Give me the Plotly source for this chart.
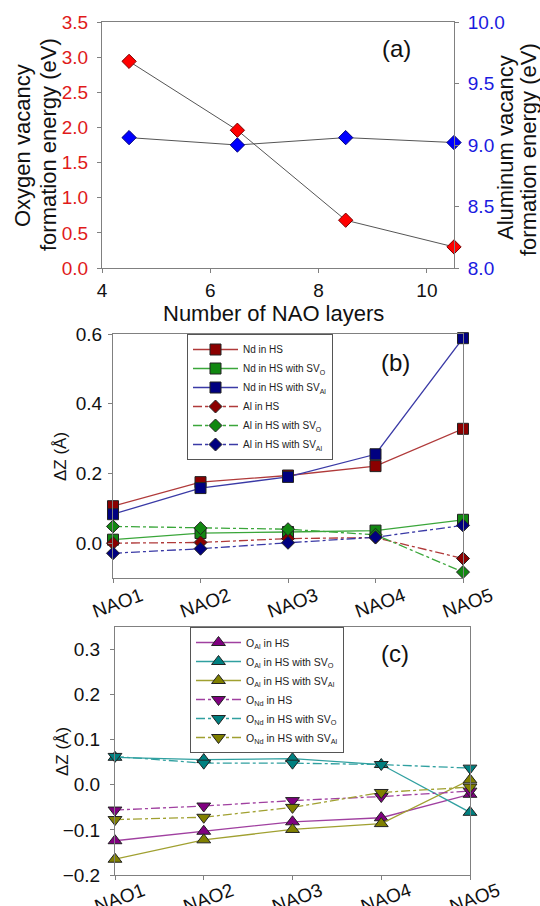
import plotly.graph_objects as go

# ---------------- data ----------------
# panel (a)
nao_layers = [4.5, 6.5, 8.5, 10.5]
o_vac_energy = [2.94, 1.96, 0.68, 0.30]
al_vac_energy = [9.06, 9.00, 9.06, 9.02]

# panels (b) and (c)
layers = ["NAO1", "NAO2", "NAO3", "NAO4", "NAO5"]

nd_hs = [0.106, 0.175, 0.194, 0.221, 0.328]
nd_hs_svo = [0.010, 0.029, 0.032, 0.036, 0.067]
nd_hs_sval = [0.083, 0.158, 0.190, 0.255, 0.588]
al_hs = [0.000, 0.002, 0.013, 0.016, -0.044]
al_hs_svo = [0.048, 0.043, 0.040, 0.024, -0.083]
al_hs_sval = [-0.029, -0.016, 0.001, 0.017, 0.051]

oal_hs = [-0.124, -0.103, -0.082, -0.073, -0.021]
oal_hs_svo = [0.061, 0.056, 0.058, 0.045, -0.061]
oal_hs_sval = [-0.165, -0.122, -0.099, -0.086, 0.011]
ond_hs = [-0.056, -0.047, -0.035, -0.026, -0.014]
ond_hs_svo = [0.063, 0.048, 0.048, 0.045, 0.037]
ond_hs_sval = [-0.077, -0.072, -0.050, -0.017, -0.005]

FONT = "Arial, Liberation Sans, sans-serif"
W, H = 540, 906

fig = go.Figure()

# ---------------- panel (a) ----------------
fig.add_trace(go.Scatter(
    x=nao_layers, y=o_vac_energy, mode="lines+markers", showlegend=False,
    cliponaxis=False,
    line=dict(color="#555555", width=1),
    marker=dict(symbol="diamond", size=11, color="#ff0000",
                line=dict(color="#7a0000", width=1)),
    xaxis="x", yaxis="y"))
fig.add_trace(go.Scatter(
    x=nao_layers, y=al_vac_energy, mode="lines+markers", showlegend=False,
    cliponaxis=False,
    line=dict(color="#555555", width=1),
    marker=dict(symbol="diamond", size=11, color="#0000ff",
                line=dict(color="#00007a", width=1)),
    xaxis="x", yaxis="y2"))

# ---------------- panel (b) ----------------
b_series = [
    ("Nd in HS", nd_hs, "square", "#8b0000", "#b03a3a", "solid"),
    ("Nd in HS with SV<sub>O</sub>", nd_hs_svo, "square", "#118811", "#3aa63a", "solid"),
    ("Nd in HS with SV<sub>Al</sub>", nd_hs_sval, "square", "#000080", "#3a3aa6", "solid"),
    ("Al in HS", al_hs, "diamond", "#8b0000", "#b03a3a", "dashdot"),
    ("Al in HS with SV<sub>O</sub>", al_hs_svo, "diamond", "#118811", "#3aa63a", "dashdot"),
    ("Al in HS with SV<sub>Al</sub>", al_hs_sval, "diamond", "#000080", "#3a3aa6", "dashdot"),
]
for name, vals, sym, mc, lc, dash in b_series:
    fig.add_trace(go.Scatter(
        x=layers, y=vals, name=name, mode="lines+markers", cliponaxis=False,
        line=dict(color=lc, width=1.3, dash=dash),
        marker=dict(symbol=sym, size=11 if sym == "square" else 10, color=mc,
                    line=dict(color="#222222", width=1)),
        xaxis="x2", yaxis="y3", legend="legend"))

# ---------------- panel (c) ----------------
c_series = [
    ("O<sub>Al</sub> in HS", oal_hs, "triangle-up", "#800080", "#a040a0", "solid"),
    ("O<sub>Al</sub> in HS with SV<sub>O</sub>", oal_hs_svo, "triangle-up", "#008080", "#30a0a0", "solid"),
    ("O<sub>Al</sub> in HS with SV<sub>Al</sub>", oal_hs_sval, "triangle-up", "#808000", "#a0a030", "solid"),
    ("O<sub>Nd</sub> in HS", ond_hs, "triangle-down", "#800080", "#a040a0", "dashdot"),
    ("O<sub>Nd</sub> in HS with SV<sub>O</sub>", ond_hs_svo, "triangle-down", "#008080", "#30a0a0", "dashdot"),
    ("O<sub>Nd</sub> in HS with SV<sub>Al</sub>", ond_hs_sval, "triangle-down", "#808000", "#a0a030", "dashdot"),
]
for name, vals, sym, mc, lc, dash in c_series:
    fig.add_trace(go.Scatter(
        x=layers, y=vals, name=name, mode="lines+markers", cliponaxis=False,
        line=dict(color=lc, width=1.3, dash=dash),
        marker=dict(symbol=sym, size=12, color=mc,
                    line=dict(color="#222222", width=1)),
        xaxis="x3", yaxis="y4", legend="legend2"))

# ---------------- layout ----------------
def px_x(p):
    return p / W

def px_y(p):
    return 1 - p / H

axis_common = dict(showline=True, linecolor="#808080", linewidth=1,
                   ticks="outside", tickcolor="#808080", ticklen=4,
                   showgrid=False, zeroline=False, automargin=False)
tf = dict(family=FONT, size=19, color="#111111")

fig.update_layout(
    width=W, height=H, margin=dict(l=0, r=0, t=0, b=0, autoexpand=False),
    paper_bgcolor="white", plot_bgcolor="white",
    font=dict(family=FONT, color="#111111"),
    xaxis=dict(domain=[px_x(102), px_x(454)], range=[4, 10.5], anchor="y",
               tickvals=[4, 6, 8, 10], mirror=True, ticklabelstandoff=1,
               tickfont=tf, **axis_common),
    yaxis=dict(domain=[px_y(268), px_y(22)], range=[0, 3.5], anchor="x",
               dtick=0.5, tickformat=".1f", ticklabelstandoff=5,
               tickfont=dict(family=FONT, size=19, color="#e01a1a"), **axis_common),
    yaxis2=dict(range=[8, 10], overlaying="y", side="right", anchor="x",
                dtick=0.5, tickformat=".1f", ticklabelstandoff=5,
                tickfont=dict(family=FONT, size=19, color="#1a1ae0"), **axis_common),
    xaxis2=dict(domain=[px_x(113), px_x(463)], type="category",
                categoryorder="array", categoryarray=layers, range=[0, 4],
                anchor="y3", mirror=True, tickangle=-20, ticklabelshift=28,
                ticklabelstandoff=-5, tickfont=tf, **axis_common),
    yaxis3=dict(domain=[px_y(578), px_y(334)], range=[-0.1, 0.6], anchor="x2",
                tickvals=[0.0, 0.2, 0.4, 0.6], tickformat=".1f", mirror=True,
                ticklabelstandoff=2, tickfont=tf, **axis_common),
    xaxis3=dict(domain=[px_x(115), px_x(470)], type="category",
                categoryorder="array", categoryarray=layers, range=[0, 4],
                anchor="y4", mirror=True, tickangle=-20, ticklabelshift=28,
                ticklabelstandoff=-7, tickfont=tf, **axis_common),
    yaxis4=dict(domain=[px_y(875), px_y(627)], range=[-0.2, 0.35], anchor="x3",
                tickvals=[-0.2, -0.1, 0.0, 0.1, 0.2, 0.3], tickformat=".1f",
                mirror=True, ticklabelstandoff=6, tickfont=tf, **axis_common),
    legend=dict(x=px_x(187), y=px_y(334), xanchor="left", yanchor="top",
                bgcolor="white", bordercolor="#555555", borderwidth=1,
                font=dict(family=FONT, size=10, color="#222222"),
                itemwidth=45, tracegroupgap=0),
    legend2=dict(x=px_x(190), y=px_y(627), xanchor="left", yanchor="top",
                 bgcolor="white", bordercolor="#555555", borderwidth=1,
                 font=dict(family=FONT, size=10.5, color="#222222"),
                 itemwidth=45, tracegroupgap=0),
)

ann = []
def add_text(text, x, y, size, rot=0, color="#111111"):
    ann.append(dict(text=text, x=px_x(x), y=px_y(y), xref="paper", yref="paper",
                    showarrow=False, textangle=rot, xanchor="center", yanchor="middle",
                    font=dict(family=FONT, size=size, color=color)))

add_text("(a)", 396, 49, 24)
add_text("(b)", 395, 362, 24)
add_text("(c)", 395, 653, 24)
add_text("Number of NAO layers", 273, 313, 22)
add_text("Oxygen vacancy", 23, 146, 22, rot=-90)
add_text("formation energy (eV)", 48, 145, 22, rot=-90)
add_text("Aluminum vacancy", 506, 148, 22, rot=-90)
add_text("formation energy (eV)", 529, 150, 22, rot=-90)
add_text("ΔZ (Å)", 60, 457, 17, rot=-90)
add_text("ΔZ (Å)", 62, 752, 17, rot=-90)
fig.update_layout(annotations=ann)

fig.write_html("out.html")
